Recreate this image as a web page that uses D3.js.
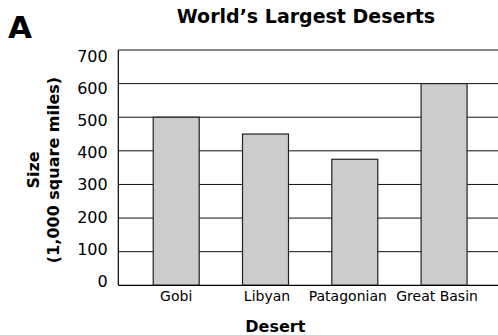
<!DOCTYPE html>
<html><head><meta charset="utf-8">
<script src="https://cdn.jsdelivr.net/npm/d3@7"></script>
<style>
html,body{margin:0;padding:0;background:#fff;}
svg{display:block;font-family:"DejaVu Sans",Verdana,sans-serif;}
</style></head>
<body>
<svg id="chart" width="498" height="335"></svg>
<script>
const categories = ["Gobi", "Libyan", "Patagonian", "Great Basin"];
const sizes = [500, 450, 375, 600];
const yTicks = [0, 100, 200, 300, 400, 500, 600, 700];
const title = "World\u2019s Largest Deserts";
const panelLabel = "A";
const xTitle = "Desert";
const yTitleLines = ["Size", "(1,000 square miles)"];

const svg = d3.select("#chart");
const pLeft = 118.3, pRight = 502, pTop = 50, pBottom = 285.3;

const x = d3.scaleBand().domain(categories).range([pLeft, pRight])
  .paddingInner(0.485).paddingOuter(0.391);
const y = d3.scaleLinear().domain([0, 700]).range([pBottom, pTop]);
const yLab = d3.scaleLinear().domain([0, 700]).range([281, 56.3]);

// gridlines
svg.append("g").selectAll("line").data(yTicks.filter(d => d > 0)).join("line")
  .attr("x1", pLeft).attr("x2", 498)
  .attr("y1", d => y(d)).attr("y2", d => y(d))
  .attr("stroke", "#111").attr("stroke-width", 1);

// bars
svg.append("g").selectAll("rect").data(sizes).join("rect")
  .attr("x", (d, i) => x(categories[i]))
  .attr("y", d => y(d))
  .attr("width", x.bandwidth())
  .attr("height", d => y(0) - y(d))
  .attr("fill", "#cccccc").attr("stroke", "#222").attr("stroke-width", 1.2);

// axes lines
svg.append("line").attr("x1", pLeft).attr("x2", pLeft).attr("y1", pTop).attr("y2", pBottom)
  .attr("stroke", "#000").attr("stroke-width", 1.2);
svg.append("line").attr("x1", pLeft).attr("x2", 498).attr("y1", pBottom).attr("y2", pBottom)
  .attr("stroke", "#000").attr("stroke-width", 1.2);

// y tick labels
svg.append("g").selectAll("text").data(yTicks).join("text")
  .attr("x", 107.7).attr("y", d => yLab(d)).attr("dy", "0.36em")
  .attr("text-anchor", "end").attr("font-size", 16).attr("fill", "#000")
  .text(d => d);

// x tick labels
const nudge = [0, 1.5, -7, -7];
svg.append("g").selectAll("text").data(categories).join("text")
  .attr("x", (d, i) => x(d) + x.bandwidth() / 2 + nudge[i]).attr("y", 301)
  .attr("text-anchor", "middle").attr("font-size", 14).attr("fill", "#000")
  .text(d => d);

// titles
svg.append("text").attr("x", 306).attr("y", 23).attr("text-anchor", "middle")
  .attr("font-size", 19).attr("font-weight", "bold").text(title);
svg.append("text").attr("x", 8).attr("y", 38)
  .attr("font-size", 31).attr("font-weight", "bold").text(panelLabel);
svg.append("text").attr("x", 275.3).attr("y", 331.5).attr("text-anchor", "middle")
  .attr("font-size", 16).attr("font-weight", "bold").text(xTitle);

const yt = svg.append("text").attr("transform", "translate(0,170) rotate(-90)")
  .attr("text-anchor", "middle").attr("font-size", 16).attr("font-weight", "bold");
yt.selectAll("tspan").data(yTitleLines).join("tspan")
  .attr("x", 0).attr("y", (d, i) => i === 0 ? 38.5 : 58.5).text(d => d);
</script>
</body></html>
